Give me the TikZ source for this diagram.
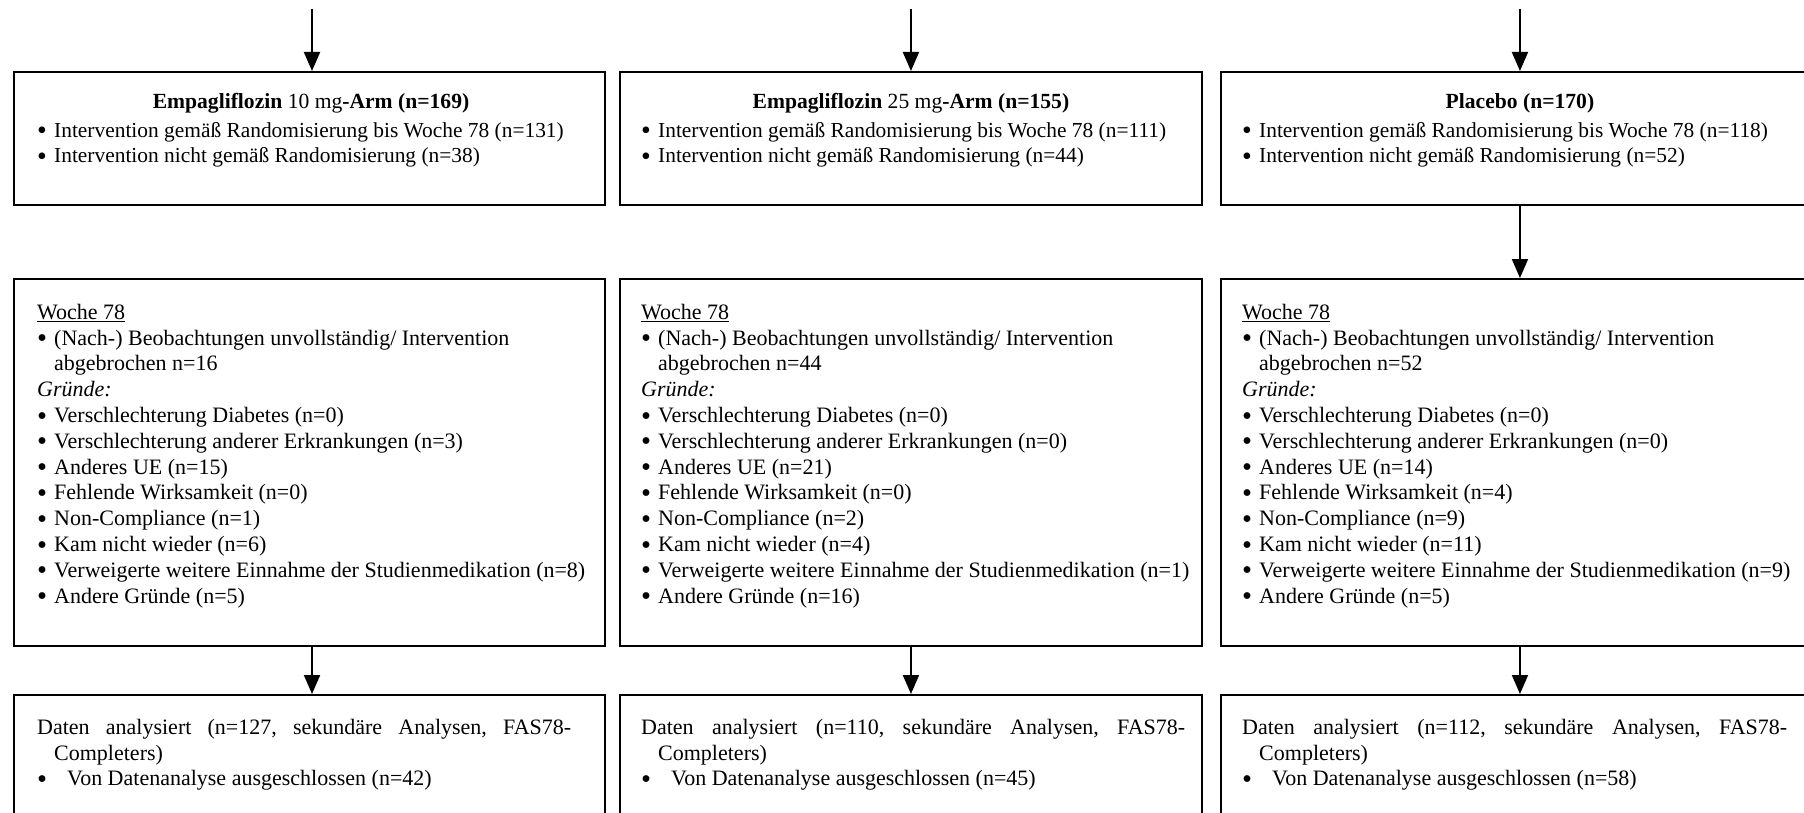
\documentclass[tikz,border=0pt]{standalone}
\usepackage{fontspec}
\setmainfont{Liberation Serif}
\usetikzlibrary{arrows.meta}
\newcommand{\bu}{\raisebox{-2.6pt}{\scalebox{1.3}{•}}}
\newcommand{\bl}[1]{\makebox[17pt][l]{\bu}#1}
\newcommand{\hg}[1]{\hspace*{17pt}#1}
\newcommand{\fr}{\rule{0pt}{20pt}}
\tikzset{
  box/.style={draw, line width=1.9pt, rectangle, inner sep=0pt, anchor=north west},
  txt/.style={anchor=north west, inner sep=0pt, align=left, font=\fontsize{22}{25.8}\selectfont},
  txs/.style={anchor=north west, inner sep=0pt, align=left, font=\fontsize{21.4}{25.8}\selectfont},
  ttl/.style={anchor=base, inner sep=0pt, font=\fontsize{21.6}{25.8}\selectfont},
  arr/.style={-{Triangle[length=19pt,width=16pt]}, line width=1.9pt}
}
\begin{document}
\begin{tikzpicture}[x=1pt,y=-1pt]
\clip (0,0) rectangle (1804,813);
% row 1
\node[box, minimum width=591pt, minimum height=133pt] (a1) at (13,71) {};
\node[box, minimum width=582pt, minimum height=133pt] (a2) at (619,71) {};
\node[box, minimum width=598pt, minimum height=133pt] (a3) at (1220,71) {};
% row 2
\node[box, minimum width=591pt, minimum height=367pt] (b1) at (13,278) {};
\node[box, minimum width=582pt, minimum height=367pt] (b2) at (619,278) {};
\node[box, minimum width=598pt, minimum height=367pt] (b3) at (1220,278) {};
% row 3
\node[box, minimum width=591pt, minimum height=160pt] (c1) at (13,694) {};
\node[box, minimum width=582pt, minimum height=160pt] (c2) at (619,694) {};
\node[box, minimum width=598pt, minimum height=160pt] (c3) at (1220,694) {};
% top coordinates
\coordinate (t1) at (312,9);
\coordinate (t2) at (a2.north |- 0,9);
\coordinate (t3) at (a3.north |- 0,9);
\coordinate (m1) at (312,0);
% arrows
\draw[arr] (t1) -- (t1 |- a1.north);
\draw[arr] (t2) -- (a2.north);
\draw[arr] (t3) -- (a3.north);
\draw[arr] (a3.south) -- (b3.north);
\draw[arr] (m1 |- b1.south) -- (m1 |- c1.north);
\draw[arr] (b2.south) -- (c2.north);
\draw[arr] (b3.south) -- (c3.north);
% row 1 texts
\node[ttl] (h1) at (311,109) {\textbf{Empagliflozin} 10 mg\textbf{-Arm (n=169)}};
\node[ttl] (h2) at (a2.center |- 0,109) {\textbf{Empagliflozin} 25 mg\textbf{-Arm (n=155)}};
\node[ttl] (h3) at (a3.center |- 0,109) {\textbf{Placebo (n=170)}};
\node[txs] (r1) at (37,117) {\fr\bl{Intervention gemäß Randomisierung bis Woche 78 (n=131)}\\
\bl{Intervention nicht gemäß Randomisierung (n=38)}};
\node[txs] (r2) at (641,117) {\fr\bl{Intervention gemäß Randomisierung bis Woche 78 (n=111)}\\
\bl{Intervention nicht gemäß Randomisierung (n=44)}};
\node[txs] (r3) at (1242,117) {\fr\bl{Intervention gemäß Randomisierung bis Woche 78 (n=118)}\\
\bl{Intervention nicht gemäß Randomisierung (n=52)}};
% row 2 texts
\node[txt] (w1) at (37,299) {\fr\underline{Woche 78}\\
\bl{(Nach-) Beobachtungen unvollständig/ Intervention}\\
\hg{abgebrochen n=16}\\
\textit{Gründe:}\\
\bl{Verschlechterung Diabetes (n=0)}\\
\bl{Verschlechterung anderer Erkrankungen (n=3)}\\
\bl{Anderes UE (n=15)}\\
\bl{Fehlende Wirksamkeit (n=0)}\\
\bl{Non-Compliance (n=1)}\\
\bl{Kam nicht wieder (n=6)}\\
\bl{Verweigerte weitere Einnahme der Studienmedikation (n=8)}\\
\bl{Andere Gründe (n=5)}};
\node[txt] (w2) at (641,299) {\fr\underline{Woche 78}\\
\bl{(Nach-) Beobachtungen unvollständig/ Intervention}\\
\hg{abgebrochen n=44}\\
\textit{Gründe:}\\
\bl{Verschlechterung Diabetes (n=0)}\\
\bl{Verschlechterung anderer Erkrankungen (n=0)}\\
\bl{Anderes UE (n=21)}\\
\bl{Fehlende Wirksamkeit (n=0)}\\
\bl{Non-Compliance (n=2)}\\
\bl{Kam nicht wieder (n=4)}\\
\bl{Verweigerte weitere Einnahme der Studienmedikation (n=1)}\\
\bl{Andere Gründe (n=16)}};
\node[txt] (w3) at (1242,299) {\fr\underline{Woche 78}\\
\bl{(Nach-) Beobachtungen unvollständig/ Intervention}\\
\hg{abgebrochen n=52}\\
\textit{Gründe:}\\
\bl{Verschlechterung Diabetes (n=0)}\\
\bl{Verschlechterung anderer Erkrankungen (n=0)}\\
\bl{Anderes UE (n=14)}\\
\bl{Fehlende Wirksamkeit (n=4)}\\
\bl{Non-Compliance (n=9)}\\
\bl{Kam nicht wieder (n=11)}\\
\bl{Verweigerte weitere Einnahme der Studienmedikation (n=9)}\\
\bl{Andere Gründe (n=5)}};
% row 3 texts
\node[txt] (d1) at (37,714) {\fr\makebox[534pt][l]{Daten\hfill analysiert\hfill (n=127,\hfill sekundäre\hfill Analysen,\hfill FAS78-}\\
\hg{Completers)}\\
\makebox[30pt][l]{\bu}Von Datenanalyse ausgeschlossen (n=42)};
\node[txt] (d2) at (641,714) {\fr\makebox[544pt][l]{Daten\hfill analysiert\hfill (n=110,\hfill sekundäre\hfill Analysen,\hfill FAS78-}\\
\hg{Completers)}\\
\makebox[30pt][l]{\bu}Von Datenanalyse ausgeschlossen (n=45)};
\node[txt] (d3) at (1242,714) {\fr\makebox[545pt][l]{Daten\hfill analysiert\hfill (n=112,\hfill sekundäre\hfill Analysen,\hfill FAS78-}\\
\hg{Completers)}\\
\makebox[30pt][l]{\bu}Von Datenanalyse ausgeschlossen (n=58)};
\end{tikzpicture}
\end{document}
